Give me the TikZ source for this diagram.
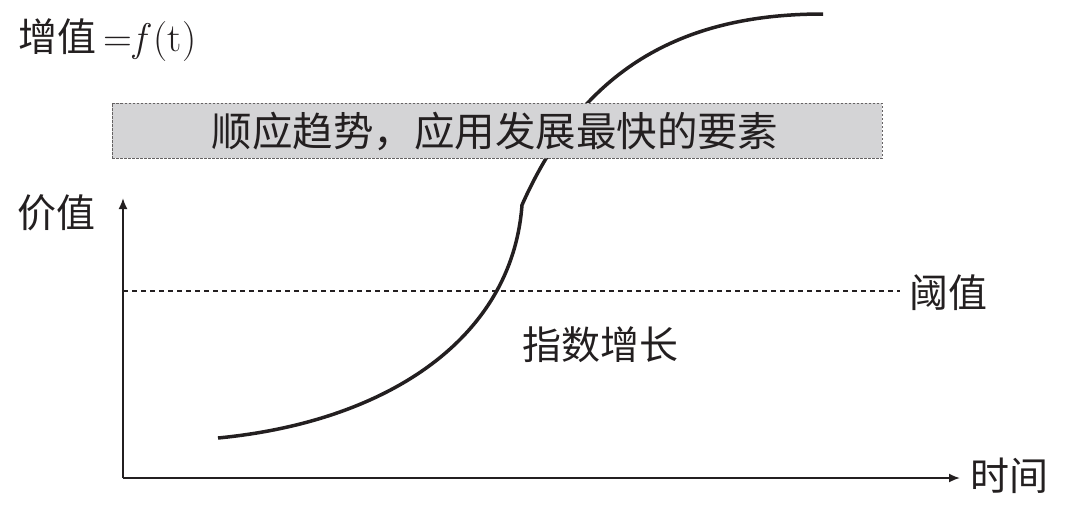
\documentclass[tikz,border=0pt]{standalone}
\usepackage{fontspec}
\newfontfamily\cjk{Noto Sans CJK SC}
\usetikzlibrary{arrows.meta}
\definecolor{boxgray}{HTML}{D4D4D6}
\definecolor{ink}{HTML}{231F20}
\tikzset{
  lbl/.style={font=\cjk\fontsize{39}{45}\selectfont, text=ink, inner sep=0pt},
  axis/.style={draw=ink, line width=1.8pt, -{Latex[length=11pt,width=9pt]}},
  thresh/.style={draw=ink, line width=1.1pt, dash pattern=on 5pt off 4pt},
  curve/.style={draw=ink, line width=3.5pt},
  bandbox/.style={draw=ink!70, fill=boxgray, line width=0.8pt, dash pattern=on 2.5pt off 1.5pt}
}
\begin{document}
\begin{tikzpicture}[x=1pt,y=-1pt]
\useasboundingbox (0,0) rectangle (1080,512);
% title
\node[lbl, anchor=west] (title) at (18,40) {增值\hspace{7pt}{\fontspec{Latin Modern Roman}\fontsize{40}{46}\selectfont =\hspace{2pt}\textit{f}\hspace{2pt}(t)}};
% curve
\coordinate (C0) at (218,438);
\coordinate (K) at (522,205);
\coordinate (C1) at (823,14);
\draw[curve, line join=round] (C0) .. controls (385,422) and (512,340) .. (K)
  .. controls (582,70) and (680,14) .. (C1);
% band box drawn over the curve
\node[bandbox, minimum width=770pt, minimum height=55pt, inner sep=0pt] (band) at (497,130.5) {};
\node[lbl, font=\cjk\fontsize{40.5}{46}\selectfont] (bandtext) at (495,131) {顺应趋势，应用发展最快的要素};
% axes
\coordinate (O) at (123,478);
\coordinate (Ytop) at (123,198);
\coordinate (Xend) at (960,478);
\draw[axis] (O) -- (Ytop);
\draw[axis] (O) -- (Xend);
\node[lbl, anchor=west] (yl) at (17,213) {价值};
\node[lbl, anchor=west] (xl) at (970,476) {时间};
% threshold
\coordinate (T1) at (123,291);
\coordinate (T2) at (900,291);
\draw[thresh] (T1) -- (T2);
\node[lbl, anchor=west] (tl) at (909,293) {阈值};
\node[lbl] (growth) at (600,345) {指数增长};
\end{tikzpicture}
\end{document}
